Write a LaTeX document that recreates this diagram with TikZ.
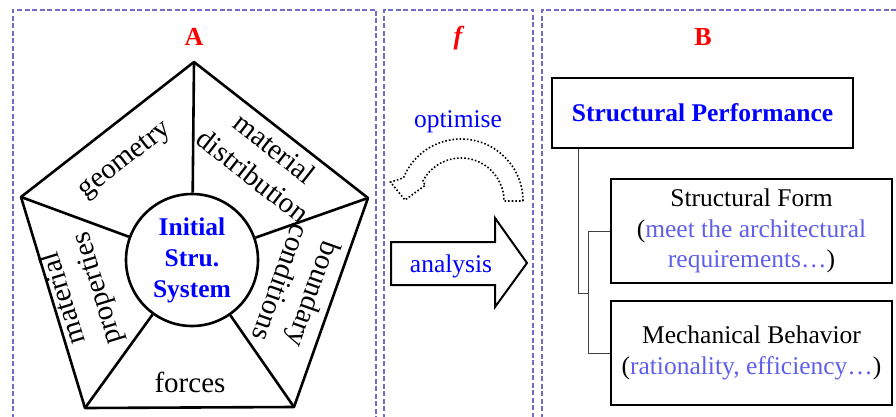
\documentclass[tikz,border=0pt]{standalone}
\usepackage{fontspec}
\setmainfont{Liberation Serif}
\usetikzlibrary{calc}
\definecolor{panelblue}{RGB}{110,110,200}
\definecolor{lightblue}{RGB}{95,95,235}

\begin{document}
\begin{tikzpicture}[x=1pt,y=1pt,
  panel/.style={draw=panelblue,line width=1.8pt,dash pattern=on 5pt off 2.5pt},
  edge/.style={line width=2.6pt,line join=round},
  lbl/.style={font=\fontsize{29}{35}\selectfont,align=center,inner sep=0pt},
  head/.style={font=\fontsize{26}{30}\selectfont\bfseries,text=red},
  item/.style={draw,line width=2pt,align=center,font=\fontsize{25.5}{30.5}\selectfont,inner sep=0pt},
  link/.style={draw=black!75,line width=1pt}]
\useasboundingbox (0,0) rectangle (896,416);
\clip (0,0) rectangle (896,416);
% panels
\draw[panel] (13,-10) rectangle (376,406);
\draw[panel] (384,-10) rectangle (533,406);
\draw[panel] (542,-10) rectangle (910,406);
\node[head] (ha) at (194,379) {A};
\node[head,font=\fontsize{26}{30}\selectfont\bfseries\itshape] (hf) at (458,378) {f};
\node[head] (hb) at (703,379) {B};
% pentagon A
\coordinate (pt) at (194,354);
\coordinate (pl) at (21,219);
\coordinate (pr) at (368,218);
\coordinate (pbl) at (85,8);
\coordinate (pbr) at (294,9);
\draw[edge] (pt) -- (pr) -- (pbr) -- (pbl) -- (pl) -- cycle;
\node[circle,draw,line width=2.6pt,minimum size=132pt,inner sep=0pt,align=center,text=blue,
  font=\fontsize{25.5}{31}\selectfont\bfseries] (core) at (192,156) {Initial\\Stru.\\System};
\foreach \v in {pt,pl,pr,pbl,pbr} \draw[edge] (\v) -- (core);
\node[lbl,rotate=38] (geo) at (126,255) {geometry};
\node[lbl,rotate=-38] (dist) at (264,254) {material\\distribution};
\node[lbl,rotate=-109.5] (bc) at (298,127) {boundary\\conditions};
\node[lbl,rotate=107] (mp) at (81.5,123) {material\\properties};
\node[lbl] (frc) at (190,34) {forces};
% f
\node[text=blue,font=\fontsize{25.5}{30}\selectfont] (opt) at (458,294) {optimise};
\coordinate (oc) at (461,215);
\draw[dotted,line width=1.6pt] ($(oc)+(0:62)$) arc[start angle=0,end angle=158,radius=62]
  -- ($(oc)+(165:73)$) -- ($(oc)+(179:56)$) -- ($(oc)+(156:39)$) -- ($(oc)+(153:43)$)
  arc[start angle=153,end angle=0,radius=43] -- cycle;
\draw[line width=2pt] (391,174) -- (495,174) -- (495,198) -- (527,153) -- (495,109) -- (495,131) -- (391,131) -- cycle;
\node[text=blue,font=\fontsize{25.5}{30}\selectfont] (ana) at (451,150) {analysis};
% B
\node[item,minimum width=301pt,minimum height=70pt,text=blue,
  font=\fontsize{25.5}{30.5}\selectfont\bfseries] (sp) at (702.5,303) {Structural Performance};
\node[item,minimum width=281pt,minimum height=104pt] (sf) at (751.5,185)
  {Structural Form\\(\textcolor{lightblue}{meet the architectural}\\\textcolor{lightblue}{requirements…})};
\node[item,minimum width=281pt,minimum height=104pt] (mb) at (751.5,63)
  {Mechanical Behavior\\(\textcolor{lightblue}{rationality, efficiency…})};
\coordinate (jn) at (589,123);
\draw[link] ([xshift=27pt]sp.south west) |- (jn);
\draw[link] (sf.west) -- ++(-22,0) |- (mb.west);
\end{tikzpicture}
\end{document}
